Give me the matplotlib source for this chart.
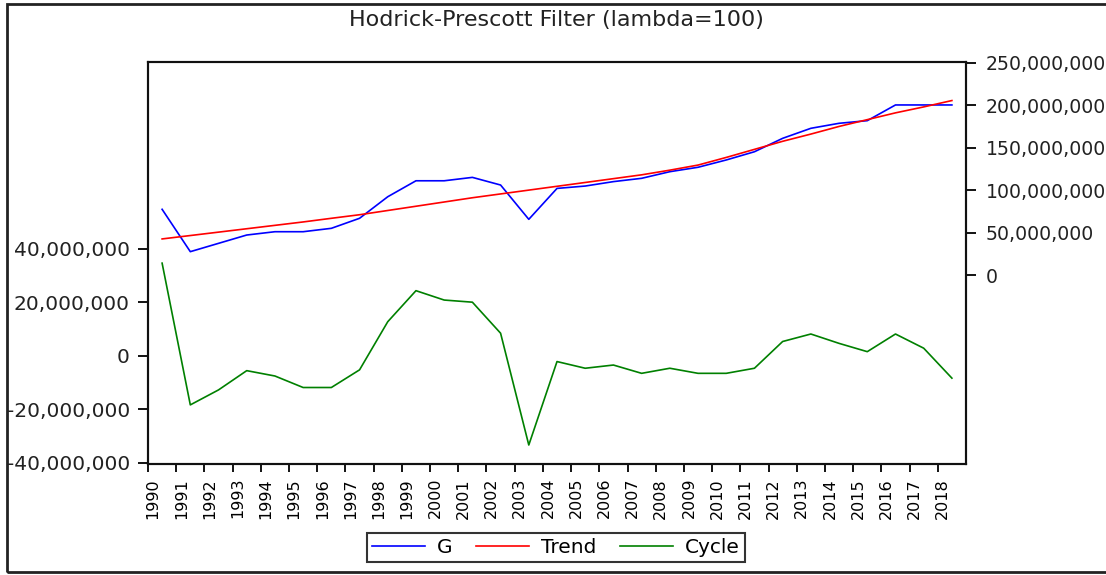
import numpy as np
import matplotlib
matplotlib.use("Agg")
import matplotlib.pyplot as plt
from matplotlib.patches import Rectangle
from matplotlib.ticker import FuncFormatter

# data (millions)
years = list(range(1990, 2019))
g = [77.4, 27.5, 37.3, 47.1, 51.0, 51.0, 55.0, 66.8, 92.2, 111.0,
     111.0, 115.0, 106.0, 65.6, 102.0, 104.8, 110.0, 113.9, 121.7, 126.9,
     135.5, 145.2, 161.0, 172.8, 178.7, 181.8, 200.3, 200.3, 200.3]
trend = [42.5, 46.5, 50.5, 54.5, 58.5, 62.5, 66.8, 71.0, 76.0, 81.0,
         86.0, 91.0, 95.5, 100.0, 104.5, 109.0, 113.5, 118.0, 123.5, 129.5,
         138.5, 148.0, 157.5, 166.0, 175.0, 183.0, 191.0, 198.0, 205.5]
cycle = [34.7, -18.3, -12.7, -5.5, -7.5, -11.8, -11.8, -5.2, 12.8, 24.4,
         20.9, 20.1, 8.5, -33.3, -2.1, -4.6, -3.4, -6.5, -4.6, -6.5,
         -6.5, -4.6, 5.4, 8.2, 4.7, 1.6, 8.2, 2.9, -8.3]
left_ticks = [-40, -20, 0, 20, 40]
right_ticks = [0, 50, 100, 150, 200, 250]

W, H = 1106, 575
fig = plt.figure(figsize=(W / 100, H / 100), dpi=100)
ax1 = fig.add_axes([148 / W, (H - 464) / H, (966 - 148) / W, (464 - 62) / H])
ax2 = ax1.twinx()

x = np.array(years)
M = 1e6
l_cyc, = ax1.plot(x, np.array(cycle) * M, color="#008000", lw=1.2)
l_g, = ax2.plot(x, np.array(g) * M, color="#0000ff", lw=1.2)
l_tr, = ax2.plot(x, np.array(trend) * M, color="#ff0000", lw=1.2)

ax1.set_xlim(years[0] - 0.5, years[-1] + 0.5)
ax1.set_ylim(-40.4e6, 109.9e6)
ax2.set_ylim(-222.6e6, 250.9e6)

fmt = FuncFormatter(lambda v, p: f"{v:,.0f}")
ax1.set_yticks([v * M for v in left_ticks])
ax2.set_yticks([v * M for v in right_ticks])
ax1.yaxis.set_major_formatter(fmt)
ax2.yaxis.set_major_formatter(fmt)

# tick marks at year boundaries, labels near the middle
ax1.set_xticks(x - 0.5)
ax1.set_xticklabels([])
ax1.set_xticks(x - 0.32, minor=True)
ax1.set_xticklabels([str(y) for y in years], minor=True, rotation=90,
                    fontsize=11.5)
ax1.tick_params(axis="x", which="minor", length=0, pad=10)
ax1.tick_params(axis="x", which="major", length=6, width=1.3, direction="out")
ax1.tick_params(axis="y", length=7, width=1.3, pad=6, labelsize=14.5,
                labelcolor="#222222")
ax2.tick_params(axis="y", length=7, width=1.3, pad=7, labelsize=13.6,
                labelcolor="#222222")

for a in (ax1, ax2):
    for s in a.spines.values():
        s.set_linewidth(1.5)
        s.set_color("#111111")

fig.text(556 / W, 1 - 20 / H, "Hodrick-Prescott Filter (lambda=100)",
         ha="center", va="center", fontsize=16, color="#222222")

leg = fig.legend([l_g, l_tr, l_cyc], ["G", "Trend", "Cycle"], ncol=3,
                 loc="lower center", bbox_to_anchor=(556 / W, 3 / H),
                 fontsize=14.5, frameon=True, fancybox=False, handlelength=2.6,
                 handletextpad=0.6, columnspacing=1.2, borderpad=0.25)
leg.get_frame().set_edgecolor("black")
leg.get_frame().set_linewidth(1.5)

# outer frame
fig.patches.append(Rectangle((7 / W, 3 / H), 1.1, (571 - 3) / H,
                             transform=fig.transFigure, fill=False,
                             lw=2, edgecolor="#222222"))

fig.savefig("out.png", dpi=100)
